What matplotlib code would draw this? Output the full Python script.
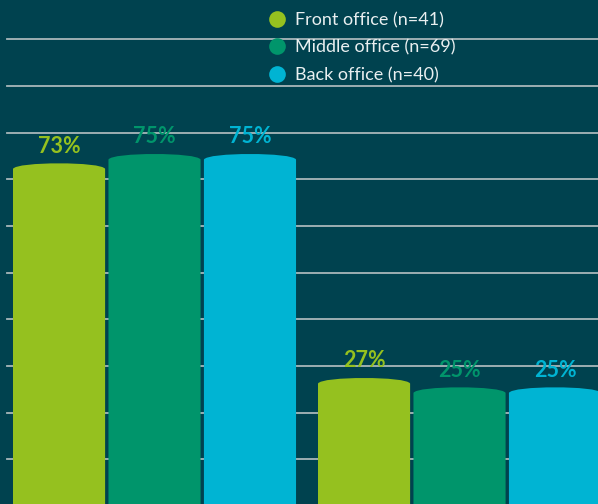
import numpy as np
import matplotlib.pyplot as plt
from matplotlib.path import Path
from matplotlib.patches import PathPatch
from matplotlib.lines import Line2D

plt.rcParams['font.family'] = ['Lato', 'DejaVu Sans']

# data
groups = ['Group 1', 'Group 2']
series = ['Front office (n=41)', 'Middle office (n=69)', 'Back office (n=40)']
values = [
    [73, 27],   # Front office
    [75, 25],   # Middle office
    [75, 25],   # Back office
]
colors = ['#95C11F', '#00956B', '#00B4D3']
bg = '#00424F'

fig = plt.figure(figsize=(5.98, 5.04), dpi=100, facecolor=bg)
ax = fig.add_axes([0, 0, 1, 1], facecolor=bg)

ax.set_xlim(-0.5066, 1.454)
ax.set_ylim(0.4, 108.4)

for g in range(10, 101, 10):
    ax.axhline(g, xmin=7 / 598, xmax=1, color='#A9B7BA', lw=1.3, zorder=1)

pitch = 0.313
width = 0.302


def dome_bar(x_center, h, color):
    x0 = x_center - width / 2
    x1 = x_center + width / 2
    edge = h - 0.8
    ctrl = edge + 1.6
    verts = [(x0, 0), (x0, edge), (x0 + 0.01, ctrl), (x1 - 0.01, ctrl),
             (x1, edge), (x1, 0), (x0, 0)]
    codes = [Path.MOVETO, Path.LINETO, Path.CURVE4, Path.CURVE4,
             Path.CURVE4, Path.LINETO, Path.CLOSEPOLY]
    ax.add_patch(PathPatch(Path(verts, codes), facecolor=color,
                           edgecolor='none', zorder=2))


for i, (vals, c) in enumerate(zip(values, colors)):
    for gi, v in enumerate(vals):
        xc = gi + (i - 1) * pitch
        dome_bar(xc, v, c)
        ax.text(xc, v + 4.1, f'{v}%', ha='center', va='center',
                fontsize=15.5, fontweight='bold', color=c, zorder=3)

handles = [Line2D([], [], marker='o', linestyle='none', markersize=12,
                  markerfacecolor=c, markeredgecolor='none') for c in colors]
leg = ax.legend(handles, series, loc='upper left',
                bbox_to_anchor=(261 / 598, 1 - 5 / 504), frameon=False,
                fontsize=13, labelcolor='#E9EFF0', handlelength=1.0,
                handletextpad=0.5, labelspacing=0.62, borderaxespad=0)

ax.axis('off')
fig.savefig('out.png', dpi=100, facecolor=bg)
